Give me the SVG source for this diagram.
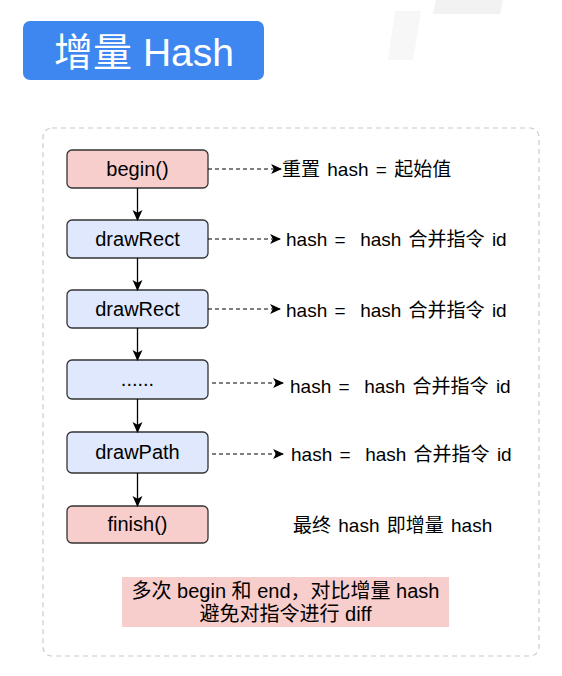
<svg xmlns="http://www.w3.org/2000/svg" width="562" height="676" viewBox="0 0 562 676">
<defs>
<marker id="ah" viewBox="0 0 10 10" refX="9" refY="5" markerWidth="11" markerHeight="11" markerUnits="userSpaceOnUse" orient="auto">
<path d="M0,0.5 L10,5 L0,9.5 L2.5,5 z" fill="#000"/>
</marker>
<style>
text{font-family:"Liberation Sans","Noto Sans CJK SC",sans-serif;fill:#000}
.node rect{stroke:#333;stroke-width:1.3}
.pink{fill:#f8cecc}
.blue{fill:#dfe8fc}
.nt{font-size:20px;text-anchor:middle}
.lb{font-size:19px;word-spacing:2px}
.nb{font-size:20px;text-anchor:middle}
.solid{stroke:#000;stroke-width:1.3;fill:none;marker-end:url(#ah)}
.dash{stroke:#000;stroke-width:1.2;fill:none;stroke-dasharray:4 3;marker-end:url(#ah)}
</style>
</defs>
<rect width="562" height="676" fill="#fff"/>
<g id="watermark">
<polygon points="395,11 421,11 413,60 388,60" fill="#f7f7f7"/>
<polygon points="436,0 503,0 500,14 433,14" fill="#f2f2f2"/>
</g>
<g id="title">
<rect x="23" y="21" width="241" height="59" rx="7" fill="#3e87f1"/>
<text x="144" y="66" style="font-size:39px;fill:#fff;text-anchor:middle">增量 Hash</text>
</g>
<rect id="container" x="43" y="128" width="496" height="528" rx="9" fill="none" stroke="#c7cad8" stroke-width="1.2" stroke-dasharray="5 4"/>
<g id="n-begin" class="node"><rect class="pink" x="67" y="150" width="141" height="38" rx="5"/><text class="nt" x="137.5" y="176">begin()</text></g>
<g id="n-rect1" class="node"><rect class="blue" x="67" y="220" width="141" height="38" rx="5"/><text class="nt" x="137.5" y="246">drawRect</text></g>
<g id="n-rect2" class="node"><rect class="blue" x="67" y="290" width="141" height="38" rx="5"/><text class="nt" x="137.5" y="316">drawRect</text></g>
<g id="n-dots" class="node"><rect class="blue" x="67" y="360" width="141" height="39" rx="5"/><text class="nt" x="137.5" y="386">......</text></g>
<g id="n-path" class="node"><rect class="blue" x="67" y="432" width="141" height="41" rx="5"/><text class="nt" x="137.5" y="459">drawPath</text></g>
<g id="n-finish" class="node"><rect class="pink" x="67" y="506" width="141" height="37" rx="5"/><text class="nt" x="137.5" y="531">finish()</text></g>
<g id="connectors">
<line class="solid" x1="137.5" y1="188" x2="137.5" y2="220"/>
<line class="solid" x1="137.5" y1="258" x2="137.5" y2="290"/>
<line class="solid" x1="137.5" y1="328" x2="137.5" y2="360"/>
<line class="solid" x1="137.5" y1="399" x2="137.5" y2="432"/>
<line class="solid" x1="137.5" y1="473" x2="137.5" y2="506"/>
<line class="dash" x1="208" y1="169" x2="281" y2="169"/>
<line class="dash" x1="208" y1="239" x2="280" y2="239"/>
<line class="dash" x1="208" y1="309" x2="280" y2="309"/>
<line class="dash" x1="212" y1="383" x2="283" y2="383"/>
<line class="dash" x1="212" y1="454" x2="283" y2="454"/>
</g>
<g id="labels">
<text class="lb" x="282" y="176">重置 hash = 起始值</text>
<text class="lb" x="286" y="246" xml:space="preserve">hash =  hash 合并指令 id</text>
<text class="lb" x="286" y="317" xml:space="preserve">hash =  hash 合并指令 id</text>
<text class="lb" x="290" y="393" xml:space="preserve">hash =  hash 合并指令 id</text>
<text class="lb" x="291" y="461" xml:space="preserve">hash =  hash 合并指令 id</text>
<text class="lb" x="293" y="532">最终 hash 即增量 hash</text>
</g>
<g id="note">
<rect x="122" y="577" width="327" height="50" fill="#f8cecc"/>
<text class="nb" x="285.5" y="598">多次 begin 和 end，对比增量 hash</text>
<text class="nb" x="285.5" y="621">避免对指令进行 diff</text>
</g>
</svg>
